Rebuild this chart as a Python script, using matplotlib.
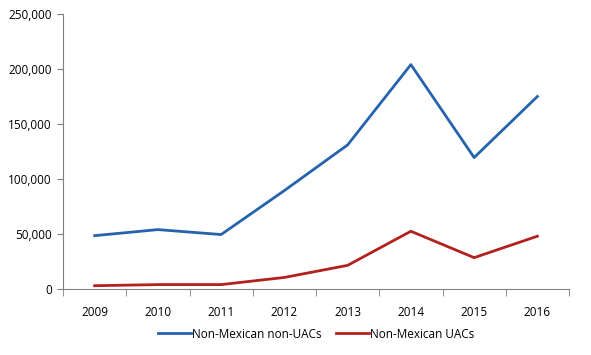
import numpy as np
import matplotlib
matplotlib.use('Agg')
import matplotlib.pyplot as plt
from matplotlib.ticker import FuncFormatter, FixedLocator

years = ['2009', '2010', '2011', '2012', '2013', '2014', '2015', '2016']
non_uacs = [48500, 54000, 49500, 89500, 131000, 204000, 119500, 175000]
uacs = [3000, 4000, 4000, 10500, 21500, 52500, 28500, 48000]

plt.rcParams['font.family'] = ['Open Sans', 'DejaVu Sans']

fig = plt.figure(figsize=(5.91, 3.55), dpi=100)
ax = fig.add_axes([63/591, 1 - 289/355, (569 - 63)/591, (289 - 14)/355])

x = np.arange(len(years))
ax.plot(x, non_uacs, color='#2563ad', lw=2.0, label='Non-Mexican non-UACs')
ax.plot(x, uacs, color='#b3211f', lw=2.0, label='Non-Mexican UACs')

ax.set_xlim(-0.5, len(years) - 0.5)
ax.set_ylim(0, 250000)
ax.set_yticks(np.arange(0, 250001, 50000))
ax.yaxis.set_major_formatter(FuncFormatter(lambda v, p: '{:,.0f}'.format(v)))
ax.set_xticks(x)
ax.set_xticklabels(years)
ax.xaxis.set_minor_locator(FixedLocator(np.arange(-0.5, len(years), 1.0)))
ax.tick_params(axis='x', which='major', length=0, pad=12, labelsize=8.5)
ax.tick_params(axis='x', which='minor', length=5, color='#808080')
ax.tick_params(axis='y', length=4, color='#808080', labelsize=8.5, pad=4)

for s in ['top', 'right']:
    ax.spines[s].set_visible(False)
for s in ['left', 'bottom']:
    ax.spines[s].set_color('#808080')

ax.legend(loc='center', bbox_to_anchor=(0.5, -0.164), ncol=2, frameon=False,
          fontsize=8.5, handlelength=2.8, handletextpad=0.1, columnspacing=1.2)

fig.savefig('out.png', dpi=100)
